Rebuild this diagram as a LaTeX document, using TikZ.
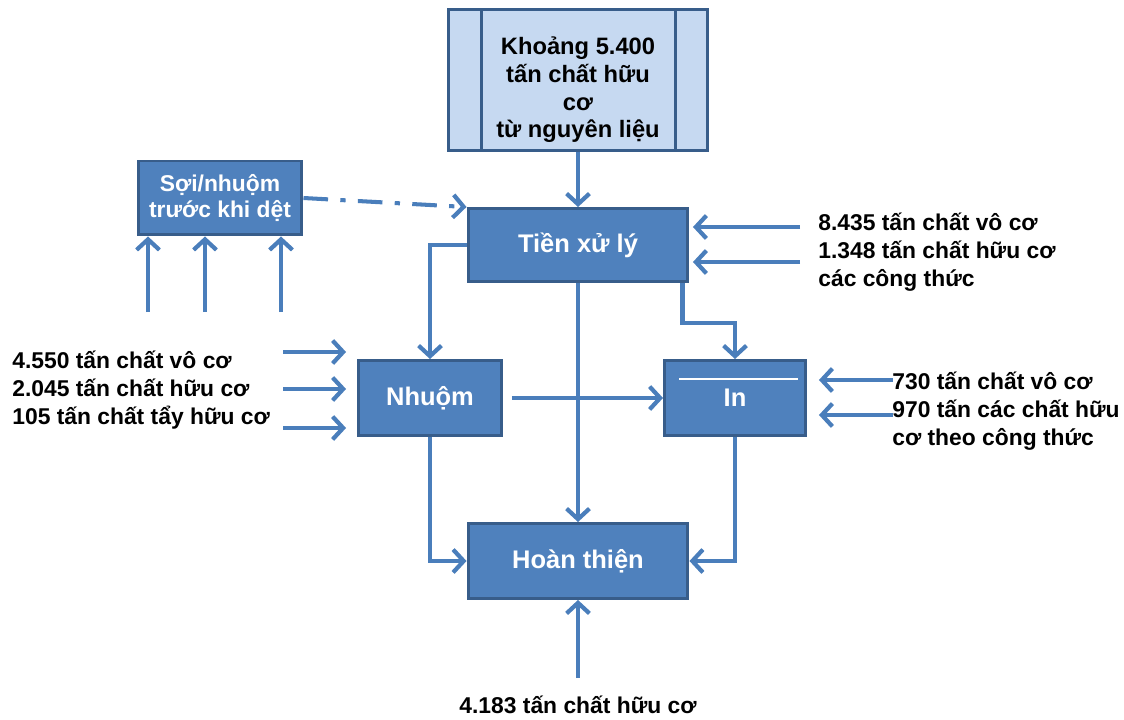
\documentclass[tikz,border=0pt]{standalone}
\usepackage{fontspec}
\setmainfont{Liberation Sans}
\usetikzlibrary{arrows.meta}
\definecolor{boxblue}{HTML}{4F81BD}
\definecolor{boxedge}{HTML}{385D8A}
\definecolor{flowblue}{HTML}{4A7EBB}
\definecolor{srcfill}{HTML}{C6D9F1}
\tikzset{
  stepbox/.style={draw=boxedge,fill=boxblue,line width=1.7pt,text=white,
    font=\fontsize{14.5}{16.5}\selectfont\bfseries,align=center,inner sep=0pt},
  srcbox/.style={draw=boxedge,fill=srcfill,line width=1.7pt,
    minimum width=5.2cm,minimum height=2.82cm},
  flow/.style={draw=flowblue,line width=2.3pt,
    -{Straight Barb[length=6pt,width=13pt,line width=2.4pt]}},
  dashdot/.style={flow,dash pattern=on 14pt off 7pt on 3pt off 7pt},
  amount/.style={font=\fontsize{13}{15.8}\selectfont\bfseries,align=left,inner sep=0pt}
}
\begin{document}
\begin{tikzpicture}[x=0.02cm,y=-0.02cm]
\useasboundingbox (0,0) rectangle (1124,719);
% boxes
\node[srcbox] (src) at (578,80) {};
\draw[boxedge,line width=1.7pt] ([xshift=0.7cm]src.north west) -- ([xshift=0.7cm]src.south west);
\draw[boxedge,line width=1.7pt] ([xshift=-0.68cm]src.north east) -- ([xshift=-0.68cm]src.south east);
\node[font=\fontsize{13.5}{15.8}\selectfont\bfseries,align=center] (srctxt) at (578,90)
   {Khoảng 5.400\\tấn chất hữu\\cơ\\từ nguyên liệu};
\node[stepbox,minimum width=4.4cm,minimum height=1.46cm] (tien) at (578,245) {Tiền xử lý};
\node[stepbox,minimum width=3.28cm,minimum height=1.48cm,
      font=\fontsize{13}{14.5}\selectfont\bfseries] (soi) at (220,198) {Sợi/nhuộm\\trước khi dệt};
\node[stepbox,minimum width=2.86cm,minimum height=1.5cm] (nhuom) at (430,398) {Nhuộm};
\node[stepbox,minimum width=2.82cm,minimum height=1.5cm] (in) at (735,398) {In};
\draw[white,line width=0.8pt] ([xshift=0.32cm,yshift=-0.4cm]in.north west) -- ([xshift=-0.18cm,yshift=-0.4cm]in.north east);
\node[stepbox,minimum width=4.4cm,minimum height=1.5cm] (hoan) at (578,561) {Hoàn thiện};
% amounts
\node[amount,anchor=west] (lt) at (818,252) {8.435 tấn chất vô cơ\\1.348 tấn chất hữu cơ\\các công thức};
\node[amount,anchor=west] (ln) at (12,390) {4.550 tấn chất vô cơ\\2.045 tấn chất hữu cơ\\105 tấn chất tẩy hữu cơ};
\node[amount,anchor=west] (li) at (892,411) {730 tấn chất vô cơ\\970 tấn các chất hữu\\cơ theo công thức};
\node[amount] (lh) at (578,705) {4.183 tấn chất hữu cơ};
% inputs
\foreach \k/\x in {1/148,2/205,3/281} {
   \coordinate (s\k) at (\x,312);
   \draw[flow] (s\k) -- (s\k |- soi.south);}
\foreach \k/\y in {1/227,2/262} {
   \coordinate (t\k) at (800,\y);
   \draw[flow,shorten >=2pt] (t\k) -- (t\k -| tien.east);}
\foreach \k/\y in {1/352,2/389,3/428} {
   \coordinate (n\k) at (283,\y);
   \draw[flow,shorten >=0.22cm] (n\k) -- (n\k -| nhuom.west);}
\foreach \k/\y in {1/380,2/415} {
   \coordinate (i\k) at (893,\y);
   \draw[flow,shorten >=0.24cm] (i\k) -- (i\k -| in.east);}
\coordinate (h1) at (578,678);
\draw[flow] (h1) -- (hoan.south);
% flows
\draw[flow] (src.south) -- (tien.north);
\draw[dashdot] (soi.east) -- (tien.north west);
\draw[flow] (tien.west) -| (nhuom.north);
\draw[flow] (tien.south) -- (hoan.north);
\draw[flow] ([xshift=-0.14cm]tien.south east) -- ++(0,40) -| (in.north);
\draw[flow] ([xshift=0.18cm]nhuom.east) -- (in.west);
\draw[flow] (nhuom.south) |- (hoan.west);
\draw[flow] (in.south) |- (hoan.east);
\end{tikzpicture}
\end{document}
